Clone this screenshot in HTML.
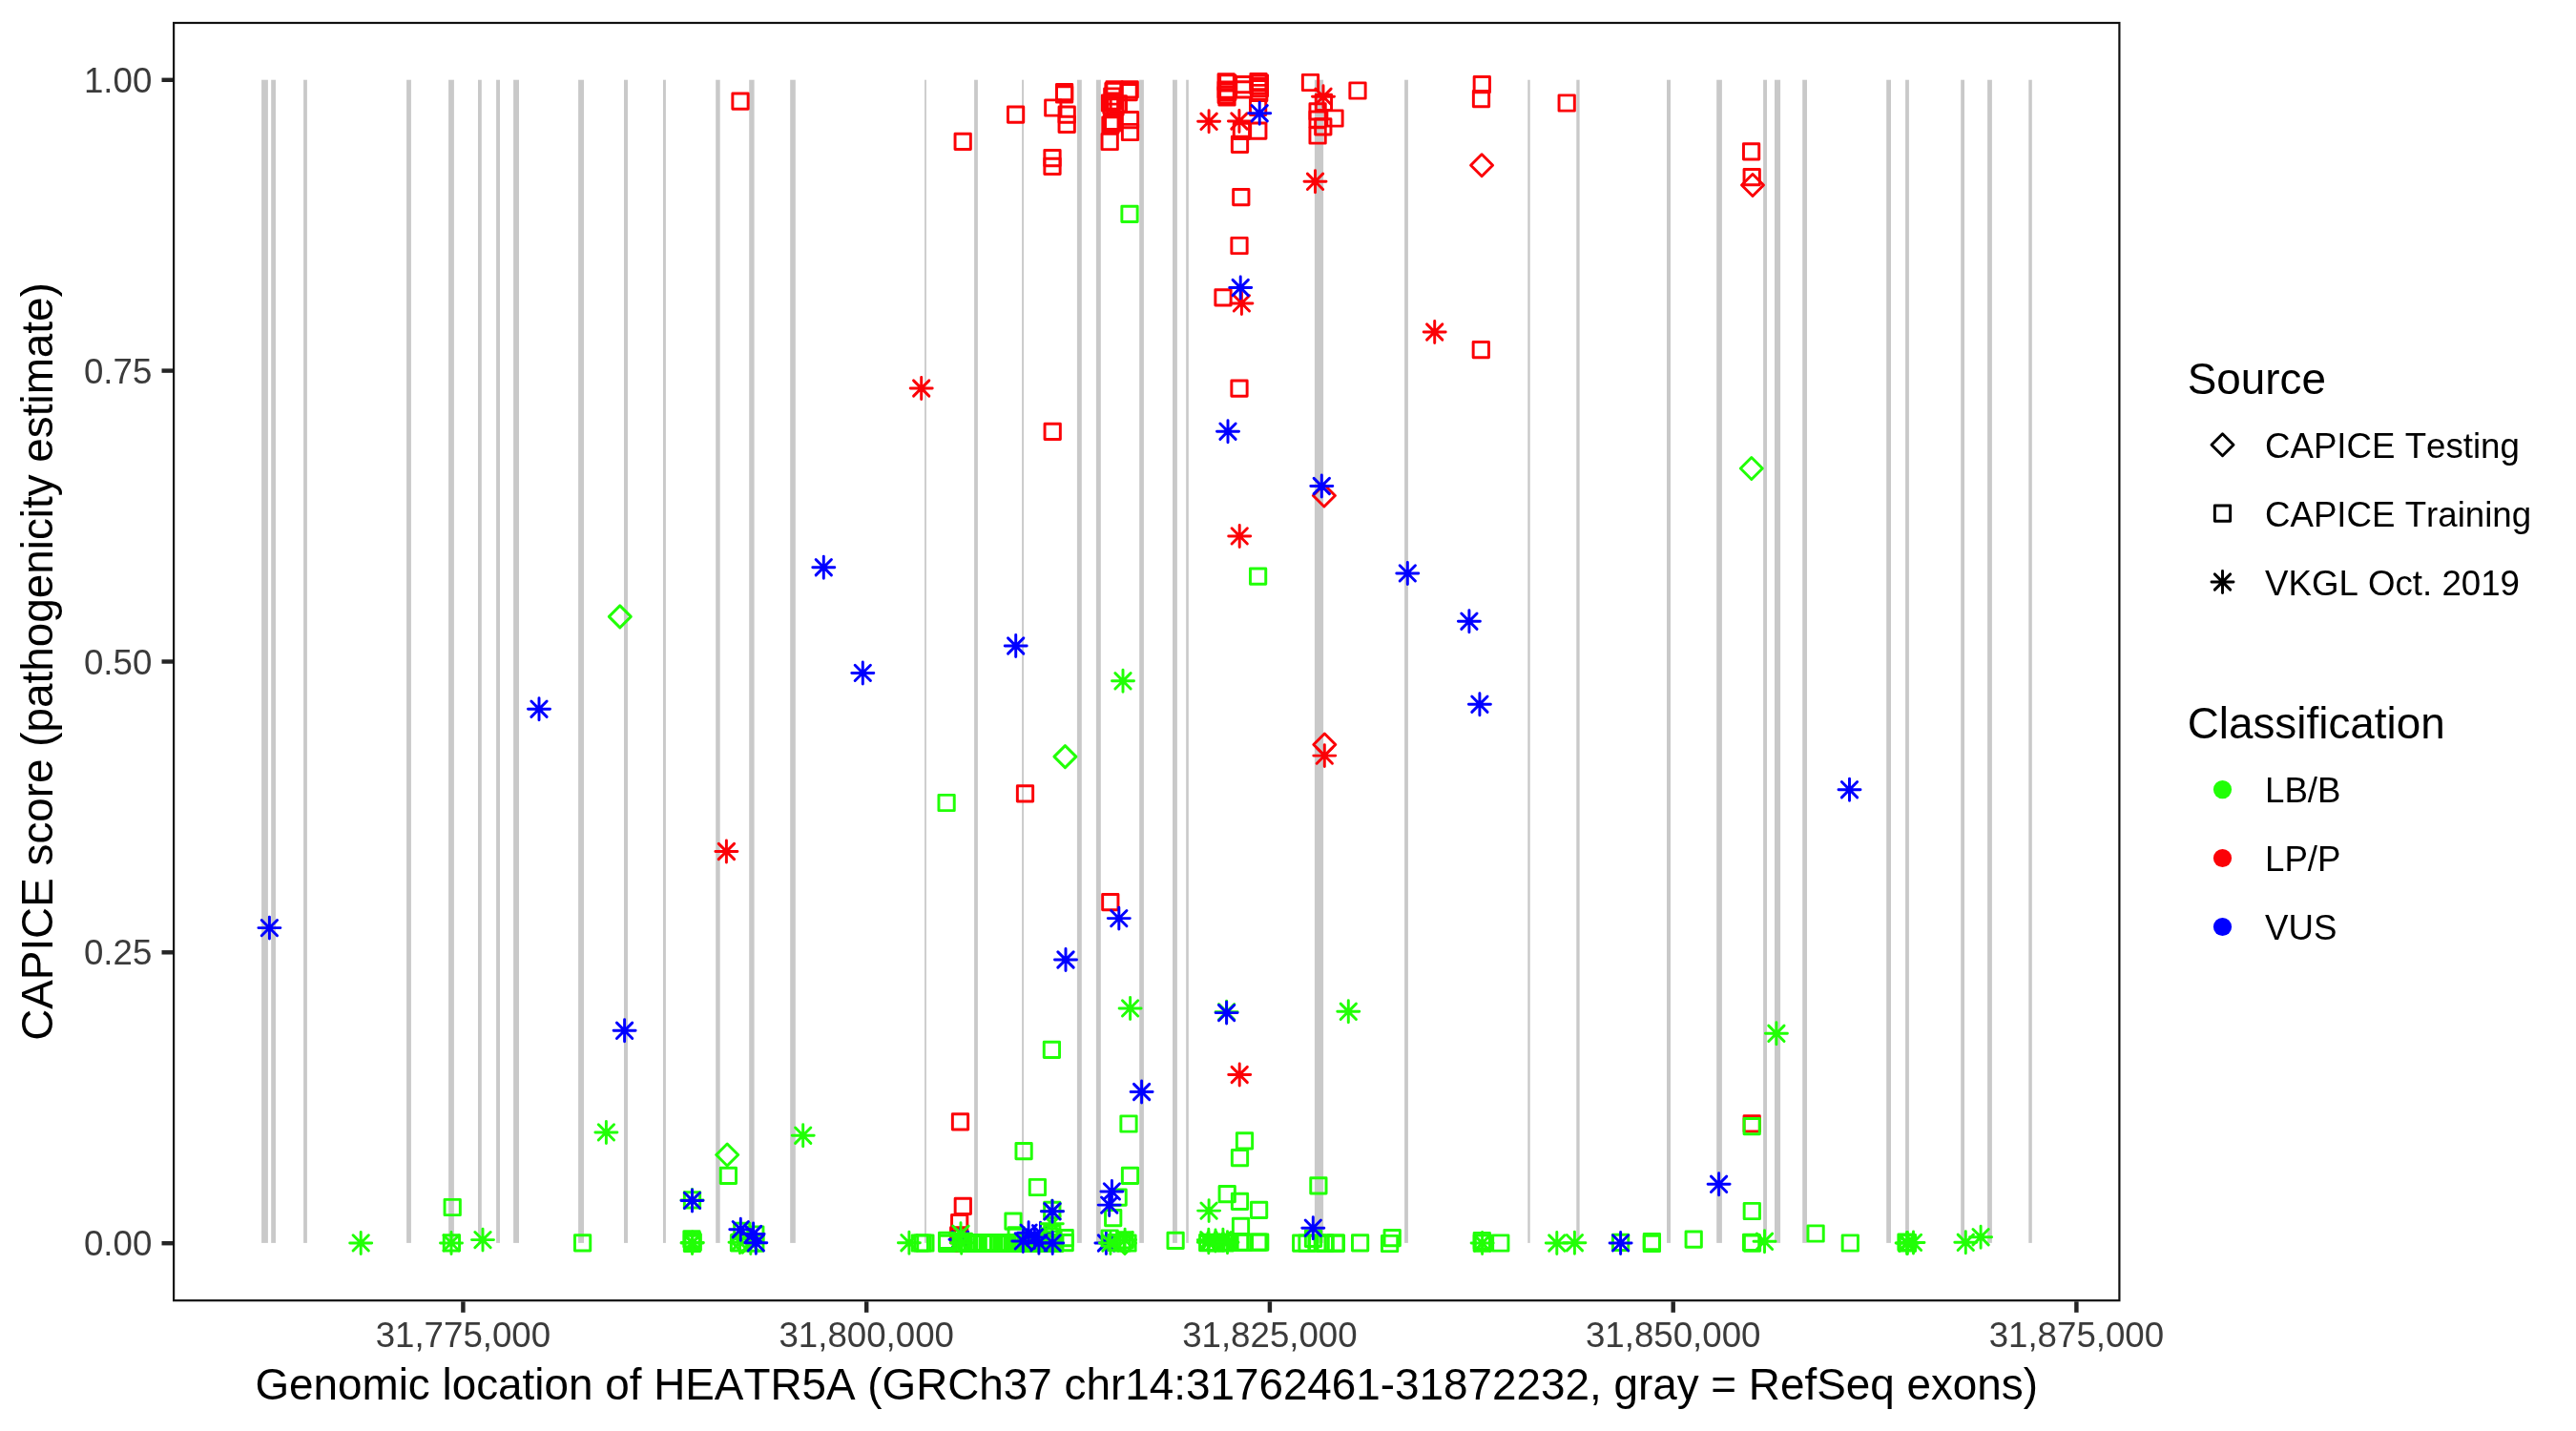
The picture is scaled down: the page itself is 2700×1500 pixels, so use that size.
<!DOCTYPE html>
<html><head><meta charset="utf-8"><title>CAPICE HEATR5A</title>
<style>
html,body{margin:0;padding:0;background:#fff;}
body{width:2700px;height:1500px;overflow:hidden;}
svg{display:block;will-change:transform;}
text{font-family:"Liberation Sans",sans-serif;font-kerning:none;}
.tk{font-size:36.67px;fill:#3b3b3b;}
.lt{font-size:36.67px;fill:#000;}
.ti{font-size:45.83px;fill:#000;}
</style></head><body>
<svg width="2700" height="1500" viewBox="0 0 2700 1500">
<rect x="0" y="0" width="2700" height="1500" fill="#ffffff"/>
<g fill="#c9c9c9">
<rect x="274.1" y="83.7" width="6.8" height="1219.2"/>
<rect x="284.2" y="83.7" width="4.8" height="1219.2"/>
<rect x="318.1" y="83.7" width="3.8" height="1219.2"/>
<rect x="426.1" y="83.7" width="4.8" height="1219.2"/>
<rect x="470.1" y="83.7" width="5.8" height="1219.2"/>
<rect x="501.0" y="83.7" width="3.8" height="1219.2"/>
<rect x="520.1" y="83.7" width="3.9" height="1219.2"/>
<rect x="538.1" y="83.7" width="5.9" height="1219.2"/>
<rect x="606.1" y="83.7" width="5.9" height="1219.2"/>
<rect x="654.0" y="83.7" width="4.0" height="1219.2"/>
<rect x="695.0" y="83.7" width="2.9" height="1219.2"/>
<rect x="750.2" y="83.7" width="4.5" height="1219.2"/>
<rect x="785.2" y="83.7" width="5.4" height="1219.2"/>
<rect x="828.2" y="83.7" width="5.6" height="1219.2"/>
<rect x="969.1" y="83.7" width="1.8" height="1219.2"/>
<rect x="1021.1" y="83.7" width="3.8" height="1219.2"/>
<rect x="1071.1" y="83.7" width="1.9" height="1219.2"/>
<rect x="1128.9" y="83.7" width="4.9" height="1219.2"/>
<rect x="1148.9" y="83.7" width="4.9" height="1219.2"/>
<rect x="1194.2" y="83.7" width="4.7" height="1219.2"/>
<rect x="1229.0" y="83.7" width="4.9" height="1219.2"/>
<rect x="1243.2" y="83.7" width="2.6" height="1219.2"/>
<rect x="1377.9" y="83.7" width="9.2" height="1219.2"/>
<rect x="1472.1" y="83.7" width="3.8" height="1219.2"/>
<rect x="1601.3" y="83.7" width="2.4" height="1219.2"/>
<rect x="1652.3" y="83.7" width="3.3" height="1219.2"/>
<rect x="1747.0" y="83.7" width="4.0" height="1219.2"/>
<rect x="1799.2" y="83.7" width="5.7" height="1219.2"/>
<rect x="1848.1" y="83.7" width="3.9" height="1219.2"/>
<rect x="1860.0" y="83.7" width="6.1" height="1219.2"/>
<rect x="1889.2" y="83.7" width="4.8" height="1219.2"/>
<rect x="1977.2" y="83.7" width="4.8" height="1219.2"/>
<rect x="1997.1" y="83.7" width="3.8" height="1219.2"/>
<rect x="2055.2" y="83.7" width="3.8" height="1219.2"/>
<rect x="2083.1" y="83.7" width="4.8" height="1219.2"/>
<rect x="2126.3" y="83.7" width="3.5" height="1219.2"/>
</g>
<g fill="none" stroke-width="2.95" stroke-linecap="round" stroke-linejoin="round">
<rect x="767.86" y="98.06" width="16.28" height="16.28" stroke="#fb0207"/>
<rect x="1001.06" y="140.26" width="16.28" height="16.28" stroke="#fb0207"/>
<rect x="1056.46" y="112.06" width="16.28" height="16.28" stroke="#fb0207"/>
<rect x="1107.46" y="88.56" width="16.28" height="16.28" stroke="#fb0207"/>
<rect x="1107.46" y="90.86" width="16.28" height="16.28" stroke="#fb0207"/>
<rect x="1095.66" y="104.86" width="16.28" height="16.28" stroke="#fb0207"/>
<rect x="1110.06" y="112.06" width="16.28" height="16.28" stroke="#fb0207"/>
<rect x="1110.06" y="122.26" width="16.28" height="16.28" stroke="#fb0207"/>
<rect x="1094.86" y="157.46" width="16.28" height="16.28" stroke="#fb0207"/>
<rect x="1094.86" y="166.26" width="16.28" height="16.28" stroke="#fb0207"/>
<rect x="1176.06" y="85.66" width="16.28" height="16.28" stroke="#fb0207"/>
<rect x="1174.96" y="88.46" width="16.28" height="16.28" stroke="#fb0207"/>
<rect x="1176.36" y="117.46" width="16.28" height="16.28" stroke="#fb0207"/>
<rect x="1176.36" y="130.36" width="16.28" height="16.28" stroke="#fb0207"/>
<rect x="1159.86" y="85.66" width="16.28" height="16.28" stroke="#fb0207"/>
<rect x="1158.86" y="87.36" width="16.28" height="16.28" stroke="#fb0207"/>
<rect x="1157.66" y="92.86" width="16.28" height="16.28" stroke="#fb0207"/>
<rect x="1155.36" y="99.86" width="16.28" height="16.28" stroke="#fb0207"/>
<rect x="1156.86" y="102.36" width="16.28" height="16.28" stroke="#fb0207"/>
<rect x="1159.06" y="97.86" width="16.28" height="16.28" stroke="#fb0207"/>
<rect x="1160.86" y="103.86" width="16.28" height="16.28" stroke="#fb0207"/>
<rect x="1164.16" y="100.66" width="16.28" height="16.28" stroke="#fb0207"/>
<rect x="1155.76" y="122.86" width="16.28" height="16.28" stroke="#fb0207"/>
<rect x="1157.36" y="120.86" width="16.28" height="16.28" stroke="#fb0207"/>
<rect x="1158.56" y="119.16" width="16.28" height="16.28" stroke="#fb0207"/>
<rect x="1155.06" y="140.36" width="16.28" height="16.28" stroke="#fb0207"/>
<rect x="1277.06" y="77.76" width="16.28" height="16.28" stroke="#fb0207"/>
<rect x="1278.66" y="78.86" width="16.28" height="16.28" stroke="#fb0207"/>
<rect x="1277.06" y="86.06" width="16.28" height="16.28" stroke="#fb0207"/>
<rect x="1278.66" y="88.26" width="16.28" height="16.28" stroke="#fb0207"/>
<rect x="1277.06" y="91.36" width="16.28" height="16.28" stroke="#fb0207"/>
<rect x="1277.86" y="93.86" width="16.28" height="16.28" stroke="#fb0207"/>
<rect x="1295.66" y="80.56" width="16.28" height="16.28" stroke="#fb0207"/>
<rect x="1295.66" y="85.66" width="16.28" height="16.28" stroke="#fb0207"/>
<rect x="1310.86" y="77.36" width="16.28" height="16.28" stroke="#fb0207"/>
<rect x="1312.26" y="78.86" width="16.28" height="16.28" stroke="#fb0207"/>
<rect x="1310.86" y="81.86" width="16.28" height="16.28" stroke="#fb0207"/>
<rect x="1312.26" y="84.46" width="16.28" height="16.28" stroke="#fb0207"/>
<rect x="1311.56" y="89.36" width="16.28" height="16.28" stroke="#fb0207"/>
<rect x="1310.46" y="104.26" width="16.28" height="16.28" stroke="#fb0207"/>
<rect x="1310.66" y="129.06" width="16.28" height="16.28" stroke="#fb0207"/>
<rect x="1293.26" y="129.26" width="16.28" height="16.28" stroke="#fb0207"/>
<rect x="1291.36" y="143.26" width="16.28" height="16.28" stroke="#fb0207"/>
<rect x="1292.66" y="198.56" width="16.28" height="16.28" stroke="#fb0207"/>
<rect x="1290.86" y="249.36" width="16.28" height="16.28" stroke="#fb0207"/>
<rect x="1273.86" y="303.76" width="16.28" height="16.28" stroke="#fb0207"/>
<rect x="1290.86" y="399.06" width="16.28" height="16.28" stroke="#fb0207"/>
<rect x="1365.36" y="78.36" width="16.28" height="16.28" stroke="#fb0207"/>
<rect x="1414.86" y="86.86" width="16.28" height="16.28" stroke="#fb0207"/>
<rect x="1379.26" y="99.16" width="16.28" height="16.28" stroke="#fb0207"/>
<rect x="1390.86" y="115.86" width="16.28" height="16.28" stroke="#fb0207"/>
<rect x="1372.96" y="108.76" width="16.28" height="16.28" stroke="#fb0207"/>
<rect x="1372.96" y="117.06" width="16.28" height="16.28" stroke="#fb0207"/>
<rect x="1378.66" y="124.76" width="16.28" height="16.28" stroke="#fb0207"/>
<rect x="1372.96" y="133.86" width="16.28" height="16.28" stroke="#fb0207"/>
<rect x="1545.16" y="80.46" width="16.28" height="16.28" stroke="#fb0207"/>
<rect x="1544.36" y="95.46" width="16.28" height="16.28" stroke="#fb0207"/>
<rect x="1634.06" y="99.86" width="16.28" height="16.28" stroke="#fb0207"/>
<rect x="1544.16" y="358.46" width="16.28" height="16.28" stroke="#fb0207"/>
<rect x="1827.46" y="150.66" width="16.28" height="16.28" stroke="#fb0207"/>
<rect x="1828.06" y="177.46" width="16.28" height="16.28" stroke="#fb0207"/>
<rect x="1095.06" y="444.26" width="16.28" height="16.28" stroke="#fb0207"/>
<rect x="1066.36" y="823.76" width="16.28" height="16.28" stroke="#fb0207"/>
<rect x="1155.66" y="937.46" width="16.28" height="16.28" stroke="#fb0207"/>
<rect x="998.36" y="1167.66" width="16.28" height="16.28" stroke="#fb0207"/>
<rect x="1001.16" y="1256.26" width="16.28" height="16.28" stroke="#fb0207"/>
<rect x="997.56" y="1273.56" width="16.28" height="16.28" stroke="#fb0207"/>
<rect x="996.56" y="1286.76" width="16.28" height="16.28" stroke="#fb0207"/>
<rect x="999.56" y="1295.26" width="16.28" height="16.28" stroke="#fb0207"/>
<rect x="1828.06" y="1169.66" width="16.28" height="16.28" stroke="#fb0207"/>
<path d="M1553.10 161.70L1564.60 173.20L1553.10 184.70L1541.60 173.20Z" stroke="#fb0207"/>
<path d="M1837.00 182.50L1848.50 194.00L1837.00 205.50L1825.50 194.00Z" stroke="#fb0207"/>
<path d="M1387.90 508.00L1399.40 519.50L1387.90 531.00L1376.40 519.50Z" stroke="#fb0207"/>
<path d="M1388.30 769.00L1399.80 780.50L1388.30 792.00L1376.80 780.50Z" stroke="#fb0207"/>
<path d="M1255.60 127.30H1278.60M1267.10 115.80V138.80M1258.96 119.16L1275.24 135.44M1258.96 135.44L1275.24 119.16" stroke="#fb0207"/>
<path d="M1287.40 127.00H1310.40M1298.90 115.50V138.50M1290.76 118.86L1307.04 135.14M1290.76 135.14L1307.04 118.86" stroke="#fb0207"/>
<path d="M1375.50 101.30H1398.50M1387.00 89.80V112.80M1378.86 93.16L1395.14 109.44M1378.86 109.44L1395.14 93.16" stroke="#fb0207"/>
<path d="M1367.00 190.30H1390.00M1378.50 178.80V201.80M1370.36 182.16L1386.64 198.44M1370.36 198.44L1386.64 182.16" stroke="#fb0207"/>
<path d="M1289.90 317.90H1312.90M1301.40 306.40V329.40M1293.26 309.76L1309.54 326.04M1293.26 326.04L1309.54 309.76" stroke="#fb0207"/>
<path d="M1492.20 348.00H1515.20M1503.70 336.50V359.50M1495.56 339.86L1511.84 356.14M1495.56 356.14L1511.84 339.86" stroke="#fb0207"/>
<path d="M954.20 407.00H977.20M965.70 395.50V418.50M957.56 398.86L973.84 415.14M957.56 415.14L973.84 398.86" stroke="#fb0207"/>
<path d="M1287.70 561.90H1310.70M1299.20 550.40V573.40M1291.06 553.76L1307.34 570.04M1291.06 570.04L1307.34 553.76" stroke="#fb0207"/>
<path d="M1376.80 792.10H1399.80M1388.30 780.60V803.60M1380.16 783.96L1396.44 800.24M1380.16 800.24L1396.44 783.96" stroke="#fb0207"/>
<path d="M749.90 892.50H772.90M761.40 881.00V904.00M753.26 884.36L769.54 900.64M753.26 900.64L769.54 884.36" stroke="#fb0207"/>
<path d="M1287.70 1126.50H1310.70M1299.20 1115.00V1138.00M1291.06 1118.36L1307.34 1134.64M1291.06 1134.64L1307.34 1118.36" stroke="#fb0207"/>
<path d="M995.00 1299.20H1018.00M1006.50 1287.70V1310.70M998.36 1291.06L1014.64 1307.34M998.36 1307.34L1014.64 1291.06" stroke="#0000ff"/>
<path d="M1147.90 1303.00H1170.90M1159.40 1291.50V1314.50M1151.26 1294.86L1167.54 1311.14M1151.26 1311.14L1167.54 1294.86" stroke="#0000ff"/>
<path d="M1079.00 1292.70H1102.00M1090.50 1281.20V1304.20M1082.36 1284.56L1098.64 1300.84M1082.36 1300.84L1098.64 1284.56" stroke="#0000ff"/>
<rect x="1175.86" y="216.26" width="16.28" height="16.28" stroke="#21ff06"/>
<rect x="1310.46" y="595.96" width="16.28" height="16.28" stroke="#21ff06"/>
<rect x="983.96" y="833.36" width="16.28" height="16.28" stroke="#21ff06"/>
<rect x="1094.26" y="1092.16" width="16.28" height="16.28" stroke="#21ff06"/>
<rect x="1174.86" y="1169.86" width="16.28" height="16.28" stroke="#21ff06"/>
<rect x="1296.36" y="1187.66" width="16.28" height="16.28" stroke="#21ff06"/>
<rect x="1828.06" y="1172.46" width="16.28" height="16.28" stroke="#21ff06"/>
<rect x="466.06" y="1257.36" width="16.28" height="16.28" stroke="#21ff06"/>
<rect x="465.26" y="1294.76" width="16.28" height="16.28" stroke="#21ff06"/>
<rect x="602.46" y="1294.76" width="16.28" height="16.28" stroke="#21ff06"/>
<rect x="755.26" y="1224.26" width="16.28" height="16.28" stroke="#21ff06"/>
<rect x="717.36" y="1249.76" width="16.28" height="16.28" stroke="#21ff06"/>
<rect x="716.86" y="1290.76" width="16.28" height="16.28" stroke="#21ff06"/>
<rect x="717.46" y="1292.36" width="16.28" height="16.28" stroke="#21ff06"/>
<rect x="718.06" y="1293.86" width="16.28" height="16.28" stroke="#21ff06"/>
<rect x="717.36" y="1295.16" width="16.28" height="16.28" stroke="#21ff06"/>
<rect x="766.36" y="1294.76" width="16.28" height="16.28" stroke="#21ff06"/>
<rect x="769.66" y="1282.26" width="16.28" height="16.28" stroke="#21ff06"/>
<rect x="783.66" y="1295.06" width="16.28" height="16.28" stroke="#21ff06"/>
<rect x="783.66" y="1285.86" width="16.28" height="16.28" stroke="#21ff06"/>
<rect x="956.16" y="1294.86" width="16.28" height="16.28" stroke="#21ff06"/>
<rect x="958.96" y="1294.86" width="16.28" height="16.28" stroke="#21ff06"/>
<rect x="961.76" y="1294.86" width="16.28" height="16.28" stroke="#21ff06"/>
<rect x="999.06" y="1294.86" width="16.28" height="16.28" stroke="#21ff06"/>
<rect x="1001.86" y="1294.66" width="16.28" height="16.28" stroke="#21ff06"/>
<rect x="1004.66" y="1295.06" width="16.28" height="16.28" stroke="#21ff06"/>
<rect x="1007.46" y="1294.76" width="16.28" height="16.28" stroke="#21ff06"/>
<rect x="1091.86" y="1287.86" width="16.28" height="16.28" stroke="#21ff06"/>
<rect x="1095.86" y="1290.86" width="16.28" height="16.28" stroke="#21ff06"/>
<rect x="984.46" y="1292.26" width="16.28" height="16.28" stroke="#21ff06"/>
<rect x="984.46" y="1295.26" width="16.28" height="16.28" stroke="#21ff06"/>
<rect x="1010.86" y="1294.66" width="16.28" height="16.28" stroke="#21ff06"/>
<rect x="1013.66" y="1295.16" width="16.28" height="16.28" stroke="#21ff06"/>
<rect x="1016.46" y="1294.66" width="16.28" height="16.28" stroke="#21ff06"/>
<rect x="1022.06" y="1294.66" width="16.28" height="16.28" stroke="#21ff06"/>
<rect x="1027.66" y="1294.66" width="16.28" height="16.28" stroke="#21ff06"/>
<rect x="1030.46" y="1295.16" width="16.28" height="16.28" stroke="#21ff06"/>
<rect x="1033.26" y="1294.66" width="16.28" height="16.28" stroke="#21ff06"/>
<rect x="1038.86" y="1294.66" width="16.28" height="16.28" stroke="#21ff06"/>
<rect x="1041.66" y="1295.16" width="16.28" height="16.28" stroke="#21ff06"/>
<rect x="1044.46" y="1294.66" width="16.28" height="16.28" stroke="#21ff06"/>
<rect x="1047.26" y="1295.16" width="16.28" height="16.28" stroke="#21ff06"/>
<rect x="1052.86" y="1295.16" width="16.28" height="16.28" stroke="#21ff06"/>
<rect x="1055.66" y="1294.66" width="16.28" height="16.28" stroke="#21ff06"/>
<rect x="1058.46" y="1295.16" width="16.28" height="16.28" stroke="#21ff06"/>
<rect x="1061.26" y="1294.66" width="16.28" height="16.28" stroke="#21ff06"/>
<rect x="1064.06" y="1295.16" width="16.28" height="16.28" stroke="#21ff06"/>
<rect x="1066.86" y="1294.66" width="16.28" height="16.28" stroke="#21ff06"/>
<rect x="1069.66" y="1295.16" width="16.28" height="16.28" stroke="#21ff06"/>
<rect x="1072.46" y="1294.66" width="16.28" height="16.28" stroke="#21ff06"/>
<rect x="1075.26" y="1295.16" width="16.28" height="16.28" stroke="#21ff06"/>
<rect x="1078.06" y="1294.66" width="16.28" height="16.28" stroke="#21ff06"/>
<rect x="1080.86" y="1295.16" width="16.28" height="16.28" stroke="#21ff06"/>
<rect x="1083.66" y="1294.66" width="16.28" height="16.28" stroke="#21ff06"/>
<rect x="1086.46" y="1295.16" width="16.28" height="16.28" stroke="#21ff06"/>
<rect x="1089.26" y="1294.66" width="16.28" height="16.28" stroke="#21ff06"/>
<rect x="1092.06" y="1295.16" width="16.28" height="16.28" stroke="#21ff06"/>
<rect x="1094.86" y="1294.66" width="16.28" height="16.28" stroke="#21ff06"/>
<rect x="1097.66" y="1295.16" width="16.28" height="16.28" stroke="#21ff06"/>
<rect x="1053.86" y="1271.96" width="16.28" height="16.28" stroke="#21ff06"/>
<rect x="1057.06" y="1286.76" width="16.28" height="16.28" stroke="#21ff06"/>
<rect x="1064.96" y="1198.56" width="16.28" height="16.28" stroke="#21ff06"/>
<rect x="1079.26" y="1236.36" width="16.28" height="16.28" stroke="#21ff06"/>
<rect x="1094.66" y="1260.26" width="16.28" height="16.28" stroke="#21ff06"/>
<rect x="1094.66" y="1284.76" width="16.28" height="16.28" stroke="#21ff06"/>
<rect x="1108.06" y="1289.46" width="16.28" height="16.28" stroke="#21ff06"/>
<rect x="1108.06" y="1294.56" width="16.28" height="16.28" stroke="#21ff06"/>
<rect x="1176.36" y="1224.16" width="16.28" height="16.28" stroke="#21ff06"/>
<rect x="1163.96" y="1247.06" width="16.28" height="16.28" stroke="#21ff06"/>
<rect x="1158.56" y="1268.56" width="16.28" height="16.28" stroke="#21ff06"/>
<rect x="1155.06" y="1289.86" width="16.28" height="16.28" stroke="#21ff06"/>
<rect x="1170.66" y="1291.66" width="16.28" height="16.28" stroke="#21ff06"/>
<rect x="1173.86" y="1294.86" width="16.28" height="16.28" stroke="#21ff06"/>
<rect x="1161.86" y="1294.36" width="16.28" height="16.28" stroke="#21ff06"/>
<rect x="1167.86" y="1294.86" width="16.28" height="16.28" stroke="#21ff06"/>
<rect x="1223.96" y="1292.16" width="16.28" height="16.28" stroke="#21ff06"/>
<rect x="1291.36" y="1205.46" width="16.28" height="16.28" stroke="#21ff06"/>
<rect x="1278.06" y="1243.56" width="16.28" height="16.28" stroke="#21ff06"/>
<rect x="1291.36" y="1251.26" width="16.28" height="16.28" stroke="#21ff06"/>
<rect x="1311.46" y="1260.26" width="16.28" height="16.28" stroke="#21ff06"/>
<rect x="1292.36" y="1277.26" width="16.28" height="16.28" stroke="#21ff06"/>
<rect x="1257.56" y="1294.46" width="16.28" height="16.28" stroke="#21ff06"/>
<rect x="1261.86" y="1294.16" width="16.28" height="16.28" stroke="#21ff06"/>
<rect x="1266.86" y="1294.66" width="16.28" height="16.28" stroke="#21ff06"/>
<rect x="1271.86" y="1294.26" width="16.28" height="16.28" stroke="#21ff06"/>
<rect x="1276.36" y="1294.66" width="16.28" height="16.28" stroke="#21ff06"/>
<rect x="1280.86" y="1294.26" width="16.28" height="16.28" stroke="#21ff06"/>
<rect x="1291.46" y="1294.06" width="16.28" height="16.28" stroke="#21ff06"/>
<rect x="1295.26" y="1294.16" width="16.28" height="16.28" stroke="#21ff06"/>
<rect x="1310.66" y="1294.06" width="16.28" height="16.28" stroke="#21ff06"/>
<rect x="1312.56" y="1294.06" width="16.28" height="16.28" stroke="#21ff06"/>
<rect x="1373.76" y="1234.76" width="16.28" height="16.28" stroke="#21ff06"/>
<rect x="1368.36" y="1290.16" width="16.28" height="16.28" stroke="#21ff06"/>
<rect x="1355.56" y="1294.96" width="16.28" height="16.28" stroke="#21ff06"/>
<rect x="1361.86" y="1294.96" width="16.28" height="16.28" stroke="#21ff06"/>
<rect x="1372.66" y="1294.96" width="16.28" height="16.28" stroke="#21ff06"/>
<rect x="1380.26" y="1294.96" width="16.28" height="16.28" stroke="#21ff06"/>
<rect x="1381.06" y="1294.96" width="16.28" height="16.28" stroke="#21ff06"/>
<rect x="1391.66" y="1294.96" width="16.28" height="16.28" stroke="#21ff06"/>
<rect x="1392.26" y="1294.96" width="16.28" height="16.28" stroke="#21ff06"/>
<rect x="1417.46" y="1294.66" width="16.28" height="16.28" stroke="#21ff06"/>
<rect x="1448.46" y="1295.36" width="16.28" height="16.28" stroke="#21ff06"/>
<rect x="1451.06" y="1289.56" width="16.28" height="16.28" stroke="#21ff06"/>
<rect x="1545.16" y="1292.36" width="16.28" height="16.28" stroke="#21ff06"/>
<rect x="1545.16" y="1294.86" width="16.28" height="16.28" stroke="#21ff06"/>
<rect x="1546.36" y="1294.86" width="16.28" height="16.28" stroke="#21ff06"/>
<rect x="1564.66" y="1294.86" width="16.28" height="16.28" stroke="#21ff06"/>
<rect x="1690.46" y="1294.16" width="16.28" height="16.28" stroke="#21ff06"/>
<rect x="1723.26" y="1293.36" width="16.28" height="16.28" stroke="#21ff06"/>
<rect x="1723.26" y="1295.36" width="16.28" height="16.28" stroke="#21ff06"/>
<rect x="1767.06" y="1291.06" width="16.28" height="16.28" stroke="#21ff06"/>
<rect x="1828.16" y="1261.36" width="16.28" height="16.28" stroke="#21ff06"/>
<rect x="1827.46" y="1294.16" width="16.28" height="16.28" stroke="#21ff06"/>
<rect x="1828.36" y="1295.06" width="16.28" height="16.28" stroke="#21ff06"/>
<rect x="1894.96" y="1284.86" width="16.28" height="16.28" stroke="#21ff06"/>
<rect x="1931.16" y="1294.86" width="16.28" height="16.28" stroke="#21ff06"/>
<rect x="1989.86" y="1293.96" width="16.28" height="16.28" stroke="#21ff06"/>
<rect x="1991.36" y="1294.66" width="16.28" height="16.28" stroke="#21ff06"/>
<path d="M1835.80 479.50L1847.30 491.00L1835.80 502.50L1824.30 491.00Z" stroke="#21ff06"/>
<path d="M649.80 634.90L661.30 646.40L649.80 657.90L638.30 646.40Z" stroke="#21ff06"/>
<path d="M1116.40 781.60L1127.90 793.10L1116.40 804.60L1104.90 793.10Z" stroke="#21ff06"/>
<path d="M762.20 1199.00L773.70 1210.50L762.20 1222.00L750.70 1210.50Z" stroke="#21ff06"/>
<path d="M778.30 1290.10L789.80 1301.60L778.30 1313.10L766.80 1301.60Z" stroke="#21ff06"/>
<path d="M1179.00 1291.50L1190.50 1303.00L1179.00 1314.50L1167.50 1303.00Z" stroke="#21ff06"/>
<path d="M1165.50 713.80H1188.50M1177.00 702.30V725.30M1168.86 705.66L1185.14 721.94M1168.86 721.94L1185.14 705.66" stroke="#21ff06"/>
<path d="M623.90 1186.90H646.90M635.40 1175.40V1198.40M627.26 1178.76L643.54 1195.04M627.26 1195.04L643.54 1178.76" stroke="#21ff06"/>
<path d="M1173.10 1056.90H1196.10M1184.60 1045.40V1068.40M1176.46 1048.76L1192.74 1065.04M1176.46 1065.04L1192.74 1048.76" stroke="#21ff06"/>
<path d="M830.20 1190.20H853.20M841.70 1178.70V1201.70M833.56 1182.06L849.84 1198.34M833.56 1198.34L849.84 1182.06" stroke="#21ff06"/>
<path d="M1274.10 1060.60H1297.10M1285.60 1049.10V1072.10M1277.46 1052.46L1293.74 1068.74M1277.46 1068.74L1293.74 1052.46" stroke="#21ff06"/>
<path d="M1401.80 1060.30H1424.80M1413.30 1048.80V1071.80M1405.16 1052.16L1421.44 1068.44M1405.16 1068.44L1421.44 1052.16" stroke="#21ff06"/>
<path d="M1850.40 1083.30H1873.40M1861.90 1071.80V1094.80M1853.76 1075.16L1870.04 1091.44M1853.76 1091.44L1870.04 1075.16" stroke="#21ff06"/>
<path d="M366.70 1302.90H389.70M378.20 1291.40V1314.40M370.06 1294.76L386.34 1311.04M370.06 1311.04L386.34 1294.76" stroke="#21ff06"/>
<path d="M461.50 1302.90H484.50M473.00 1291.40V1314.40M464.86 1294.76L481.14 1311.04M464.86 1311.04L481.14 1294.76" stroke="#21ff06"/>
<path d="M494.50 1299.60H517.50M506.00 1288.10V1311.10M497.86 1291.46L514.14 1307.74M497.86 1307.74L514.14 1291.46" stroke="#21ff06"/>
<path d="M714.00 1258.00H737.00M725.50 1246.50V1269.50M717.36 1249.86L733.64 1266.14M717.36 1266.14L733.64 1249.86" stroke="#21ff06"/>
<path d="M714.00 1302.90H737.00M725.50 1291.40V1314.40M717.36 1294.76L733.64 1311.04M717.36 1311.04L733.64 1294.76" stroke="#21ff06"/>
<path d="M714.30 1302.50H737.30M725.80 1291.00V1314.00M717.66 1294.36L733.94 1310.64M717.66 1310.64L733.94 1294.36" stroke="#21ff06"/>
<path d="M775.30 1302.90H798.30M786.80 1291.40V1314.40M778.66 1294.76L794.94 1311.04M778.66 1311.04L794.94 1294.76" stroke="#21ff06"/>
<path d="M764.00 1302.30H787.00M775.50 1290.80V1313.80M767.36 1294.16L783.64 1310.44M767.36 1310.44L783.64 1294.16" stroke="#21ff06"/>
<path d="M941.40 1302.70H964.40M952.90 1291.20V1314.20M944.76 1294.56L961.04 1310.84M944.76 1310.84L961.04 1294.56" stroke="#21ff06"/>
<path d="M1091.30 1269.60H1114.30M1102.80 1258.10V1281.10M1094.66 1261.46L1110.94 1277.74M1094.66 1277.74L1110.94 1261.46" stroke="#21ff06"/>
<path d="M1091.30 1282.80H1114.30M1102.80 1271.30V1294.30M1094.66 1274.66L1110.94 1290.94M1094.66 1290.94L1110.94 1274.66" stroke="#21ff06"/>
<path d="M1167.60 1299.60H1190.60M1179.10 1288.10V1311.10M1170.96 1291.46L1187.24 1307.74M1170.96 1307.74L1187.24 1291.46" stroke="#21ff06"/>
<path d="M1255.60 1269.10H1278.60M1267.10 1257.60V1280.60M1258.96 1260.96L1275.24 1277.24M1258.96 1277.24L1275.24 1260.96" stroke="#21ff06"/>
<path d="M1255.30 1299.80H1278.30M1266.80 1288.30V1311.30M1258.66 1291.66L1274.94 1307.94M1258.66 1307.94L1274.94 1291.66" stroke="#21ff06"/>
<path d="M1255.30 1302.30H1278.30M1266.80 1290.80V1313.80M1258.66 1294.16L1274.94 1310.44M1258.66 1310.44L1274.94 1294.16" stroke="#21ff06"/>
<path d="M1262.50 1300.50H1285.50M1274.00 1289.00V1312.00M1265.86 1292.36L1282.14 1308.64M1265.86 1308.64L1282.14 1292.36" stroke="#21ff06"/>
<path d="M1270.40 1299.60H1293.40M1281.90 1288.10V1311.10M1273.76 1291.46L1290.04 1307.74M1273.76 1307.74L1290.04 1291.46" stroke="#21ff06"/>
<path d="M1275.00 1302.30H1298.00M1286.50 1290.80V1313.80M1278.36 1294.16L1294.64 1310.44M1278.36 1310.44L1294.64 1294.16" stroke="#21ff06"/>
<path d="M1542.10 1303.00H1565.10M1553.60 1291.50V1314.50M1545.46 1294.86L1561.74 1311.14M1545.46 1311.14L1561.74 1294.86" stroke="#21ff06"/>
<path d="M1620.30 1303.00H1643.30M1631.80 1291.50V1314.50M1623.66 1294.86L1639.94 1311.14M1623.66 1311.14L1639.94 1294.86" stroke="#21ff06"/>
<path d="M1638.90 1302.70H1661.90M1650.40 1291.20V1314.20M1642.26 1294.56L1658.54 1310.84M1642.26 1310.84L1658.54 1294.56" stroke="#21ff06"/>
<path d="M1838.00 1301.30H1861.00M1849.50 1289.80V1312.80M1841.36 1293.16L1857.64 1309.44M1841.36 1309.44L1857.64 1293.16" stroke="#21ff06"/>
<path d="M1987.10 1303.00H2010.10M1998.60 1291.50V1314.50M1990.46 1294.86L2006.74 1311.14M1990.46 1311.14L2006.74 1294.86" stroke="#21ff06"/>
<path d="M1987.90 1303.00H2010.90M1999.40 1291.50V1314.50M1991.26 1294.86L2007.54 1311.14M1991.26 1311.14L2007.54 1294.86" stroke="#21ff06"/>
<path d="M1994.00 1302.40H2017.00M2005.50 1290.90V1313.90M1997.36 1294.26L2013.64 1310.54M1997.36 1310.54L2013.64 1294.26" stroke="#21ff06"/>
<path d="M2048.80 1302.30H2071.80M2060.30 1290.80V1313.80M2052.16 1294.16L2068.44 1310.44M2052.16 1310.44L2068.44 1294.16" stroke="#21ff06"/>
<path d="M2064.60 1296.70H2087.60M2076.10 1285.20V1308.20M2067.96 1288.56L2084.24 1304.84M2067.96 1304.84L2084.24 1288.56" stroke="#21ff06"/>
<path d="M1308.70 118.70H1331.70M1320.20 107.20V130.20M1312.06 110.56L1328.34 126.84M1312.06 126.84L1328.34 110.56" stroke="#0000ff"/>
<path d="M1288.70 301.50H1311.70M1300.20 290.00V313.00M1292.06 293.36L1308.34 309.64M1292.06 309.64L1308.34 293.36" stroke="#0000ff"/>
<path d="M851.80 594.70H874.80M863.30 583.20V606.20M855.16 586.56L871.44 602.84M855.16 602.84L871.44 586.56" stroke="#0000ff"/>
<path d="M1275.50 452.20H1298.50M1287.00 440.70V463.70M1278.86 444.06L1295.14 460.34M1278.86 460.34L1295.14 444.06" stroke="#0000ff"/>
<path d="M1373.80 509.50H1396.80M1385.30 498.00V521.00M1377.16 501.36L1393.44 517.64M1377.16 517.64L1393.44 501.36" stroke="#0000ff"/>
<path d="M1463.80 600.90H1486.80M1475.30 589.40V612.40M1467.16 592.76L1483.44 609.04M1467.16 609.04L1483.44 592.76" stroke="#0000ff"/>
<path d="M553.50 743.20H576.50M565.00 731.70V754.70M556.86 735.06L573.14 751.34M556.86 751.34L573.14 735.06" stroke="#0000ff"/>
<path d="M892.80 705.40H915.80M904.30 693.90V716.90M896.16 697.26L912.44 713.54M896.16 713.54L912.44 697.26" stroke="#0000ff"/>
<path d="M1053.20 677.00H1076.20M1064.70 665.50V688.50M1056.56 668.86L1072.84 685.14M1056.56 685.14L1072.84 668.86" stroke="#0000ff"/>
<path d="M1528.40 651.20H1551.40M1539.90 639.70V662.70M1531.76 643.06L1548.04 659.34M1531.76 659.34L1548.04 643.06" stroke="#0000ff"/>
<path d="M1539.40 738.20H1562.40M1550.90 726.70V749.70M1542.76 730.06L1559.04 746.34M1542.76 746.34L1559.04 730.06" stroke="#0000ff"/>
<path d="M1927.00 827.70H1950.00M1938.50 816.20V839.20M1930.36 819.56L1946.64 835.84M1930.36 835.84L1946.64 819.56" stroke="#0000ff"/>
<path d="M270.90 972.60H293.90M282.40 961.10V984.10M274.26 964.46L290.54 980.74M274.26 980.74L290.54 964.46" stroke="#0000ff"/>
<path d="M643.10 1080.30H666.10M654.60 1068.80V1091.80M646.46 1072.16L662.74 1088.44M646.46 1088.44L662.74 1072.16" stroke="#0000ff"/>
<path d="M1161.30 962.60H1184.30M1172.80 951.10V974.10M1164.66 954.46L1180.94 970.74M1164.66 970.74L1180.94 954.46" stroke="#0000ff"/>
<path d="M1105.50 1006.00H1128.50M1117.00 994.50V1017.50M1108.86 997.86L1125.14 1014.14M1108.86 1014.14L1125.14 997.86" stroke="#0000ff"/>
<path d="M1185.10 1144.50H1208.10M1196.60 1133.00V1156.00M1188.46 1136.36L1204.74 1152.64M1188.46 1152.64L1204.74 1136.36" stroke="#0000ff"/>
<path d="M1274.10 1061.60H1297.10M1285.60 1050.10V1073.10M1277.46 1053.46L1293.74 1069.74M1277.46 1069.74L1293.74 1053.46" stroke="#0000ff"/>
<path d="M714.00 1258.40H737.00M725.50 1246.90V1269.90M717.36 1250.26L733.64 1266.54M717.36 1266.54L733.64 1250.26" stroke="#0000ff"/>
<path d="M764.80 1288.70H787.80M776.30 1277.20V1300.20M768.16 1280.56L784.44 1296.84M768.16 1296.84L784.44 1280.56" stroke="#0000ff"/>
<path d="M778.10 1293.50H801.10M789.60 1282.00V1305.00M781.46 1285.36L797.74 1301.64M781.46 1301.64L797.74 1285.36" stroke="#0000ff"/>
<path d="M780.80 1302.80H803.80M792.30 1291.30V1314.30M784.16 1294.66L800.44 1310.94M784.16 1310.94L800.44 1294.66" stroke="#0000ff"/>
<path d="M1060.80 1300.90H1083.80M1072.30 1289.40V1312.40M1064.16 1292.76L1080.44 1309.04M1064.16 1309.04L1080.44 1292.76" stroke="#0000ff"/>
<path d="M1066.60 1292.20H1089.60M1078.10 1280.70V1303.70M1069.96 1284.06L1086.24 1300.34M1069.96 1300.34L1086.24 1284.06" stroke="#0000ff"/>
<path d="M1072.90 1296.90H1095.90M1084.40 1285.40V1308.40M1076.26 1288.76L1092.54 1305.04M1076.26 1305.04L1092.54 1288.76" stroke="#0000ff"/>
<path d="M1077.40 1302.80H1100.40M1088.90 1291.30V1314.30M1080.76 1294.66L1097.04 1310.94M1080.76 1310.94L1097.04 1294.66" stroke="#0000ff"/>
<path d="M1091.70 1302.90H1114.70M1103.20 1291.40V1314.40M1095.06 1294.76L1111.34 1311.04M1095.06 1311.04L1111.34 1294.76" stroke="#0000ff"/>
<path d="M1091.50 1269.80H1114.50M1103.00 1258.30V1281.30M1094.86 1261.66L1111.14 1277.94M1094.86 1277.94L1111.14 1261.66" stroke="#0000ff"/>
<path d="M1153.90 1248.90H1176.90M1165.40 1237.40V1260.40M1157.26 1240.76L1173.54 1257.04M1157.26 1257.04L1173.54 1240.76" stroke="#0000ff"/>
<path d="M1151.20 1263.10H1174.20M1162.70 1251.60V1274.60M1154.56 1254.96L1170.84 1271.24M1154.56 1271.24L1170.84 1254.96" stroke="#0000ff"/>
<path d="M1364.80 1287.20H1387.80M1376.30 1275.70V1298.70M1368.16 1279.06L1384.44 1295.34M1368.16 1295.34L1384.44 1279.06" stroke="#0000ff"/>
<path d="M1687.10 1302.90H1710.10M1698.60 1291.40V1314.40M1690.46 1294.76L1706.74 1311.04M1690.46 1311.04L1706.74 1294.76" stroke="#0000ff"/>
<path d="M1790.10 1241.30H1813.10M1801.60 1229.80V1252.80M1793.46 1233.16L1809.74 1249.44M1793.46 1249.44L1809.74 1233.16" stroke="#0000ff"/>
<path d="M995.50 1293.30H1018.50M1007.00 1281.80V1304.80M998.86 1285.16L1015.14 1301.44M998.86 1301.44L1015.14 1285.16" stroke="#21ff06"/>
<path d="M996.20 1302.80H1019.20M1007.70 1291.30V1314.30M999.56 1294.66L1015.84 1310.94M999.56 1310.94L1015.84 1294.66" stroke="#21ff06"/>
<path d="M1152.40 1303.00H1175.40M1163.90 1291.50V1314.50M1155.76 1294.86L1172.04 1311.14M1155.76 1311.14L1172.04 1294.86" stroke="#21ff06"/>
</g>
<rect x="182.1" y="24.0" width="2039.3" height="1339.2" fill="none" stroke="#111111" stroke-width="2.2"/>
<g stroke="#252525" stroke-width="4.44" fill="none">
<path d="M169.5 83.8H181"/>
<path d="M169.5 388.6H181"/>
<path d="M169.5 693.5H181"/>
<path d="M169.5 998.3H181"/>
<path d="M169.5 1303.2H181"/>
<path d="M485.4 1364.3V1375.8"/>
<path d="M908.2 1364.3V1375.8"/>
<path d="M1330.9 1364.3V1375.8"/>
<path d="M1753.7 1364.3V1375.8"/>
<path d="M2176.4 1364.3V1375.8"/>
</g>
<text class="tk" x="159.3" y="96.9" text-anchor="end">1.00</text>
<text class="tk" x="159.3" y="401.7" text-anchor="end">0.75</text>
<text class="tk" x="159.3" y="706.6" text-anchor="end">0.50</text>
<text class="tk" x="159.3" y="1011.4" text-anchor="end">0.25</text>
<text class="tk" x="159.3" y="1316.3" text-anchor="end">0.00</text>
<text class="tk" x="485.4" y="1412.3" text-anchor="middle">31,775,000</text>
<text class="tk" x="908.2" y="1412.3" text-anchor="middle">31,800,000</text>
<text class="tk" x="1330.9" y="1412.3" text-anchor="middle">31,825,000</text>
<text class="tk" x="1753.7" y="1412.3" text-anchor="middle">31,850,000</text>
<text class="tk" x="2176.4" y="1412.3" text-anchor="middle">31,875,000</text>
<text class="ti" x="1201.7" y="1467" text-anchor="middle">Genomic location of HEATR5A (GRCh37 chr14:31762461-31872232, gray = RefSeq exons)</text>
<text class="ti" transform="translate(55.2 693.5) rotate(-90)" text-anchor="middle">CAPICE score (pathogenicity estimate)</text>
<text class="ti" x="2292.7" y="412.7">Source</text>
<g fill="none" stroke="#000" stroke-width="2.95" stroke-linecap="round" stroke-linejoin="round">
<path d="M2329.50 454.80L2341.00 466.30L2329.50 477.80L2318.00 466.30Z" stroke="#000"/>
<rect x="2321.36" y="530.06" width="16.28" height="16.28" stroke="#000"/>
<path d="M2318.00 610.00H2341.00M2329.50 598.50V621.50M2321.36 601.86L2337.64 618.14M2321.36 618.14L2337.64 601.86" stroke="#000"/>
</g>
<text class="lt" x="2374" y="480.3">CAPICE Testing</text>
<text class="lt" x="2374" y="552.3">CAPICE Training</text>
<text class="lt" x="2374" y="624.3">VKGL Oct. 2019</text>
<text class="ti" x="2292.7" y="774.1">Classification</text>
<circle cx="2329.5" cy="827.6" r="9.6" fill="#21ff06"/>
<circle cx="2329.5" cy="899.5" r="9.6" fill="#fb0207"/>
<circle cx="2329.5" cy="971.5" r="9.6" fill="#0000ff"/>
<text class="lt" x="2374" y="841">LB/B</text>
<text class="lt" x="2374" y="912.9">LP/P</text>
<text class="lt" x="2374" y="984.8">VUS</text>
</svg></body></html>
